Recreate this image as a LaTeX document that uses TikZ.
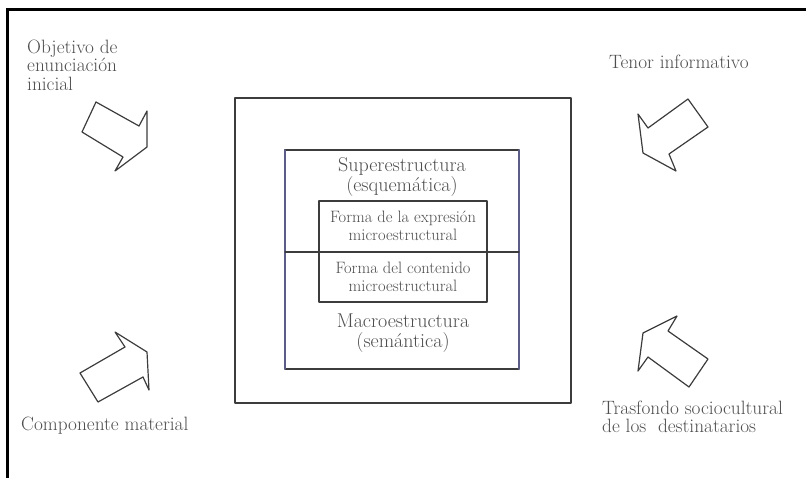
\documentclass[tikz,border=0pt]{standalone}
\usepackage{tkz-euclide}
\usepackage{tikz}
\usepackage{amsmath}
\definecolor{textgray}{HTML}{4E4E4E}
\definecolor{linegray}{HTML}{3C3C3C}
\definecolor{bluegray}{HTML}{5C5C88}
\tikzset{
  cornerlbl/.style={text=textgray, font=\fontsize{19.3}{18.5}\selectfont, align=left, anchor=west, inner sep=0pt},
  boxlbl/.style={text=textgray, font=\fontsize{20}{20}\selectfont, align=center, inner sep=0pt},
  microlbl/.style={text=textgray, font=\fontsize{16.5}{18}\selectfont, align=center, inner sep=0pt}
}

\begin{document}
\begin{tikzpicture}[x=1pt, y=-1pt]
    \useasboundingbox (0,0) rectangle (806,477);
    % marco
    \tkzDefPoints{7/478/F1,7/9/F2,807/9/F3}
    \tkzDrawPolySeg[line width=3pt,color=black](F1,F2,F3)
    % cajas
    \tkzDefPoints{235/98/O1,571/98/O2,571/403/O3,235/403/O4}
    \tkzDrawPolygon[line width=1.5pt,color=linegray](O1,O2,O3,O4)
    \tkzDefPoints{285/150/M1,519/150/M2,519/369/M3,285/369/M4,285/252/D1,519/252/D2}
    \tkzDrawPolygon[line width=1.4pt,color=linegray](M1,M2,M3,M4)
    \tkzDrawSegments[line width=1.4pt,color=bluegray](M1,M4 M2,M3)
    \tkzDrawSegments[line width=1.2pt,color=linegray](D1,D2)
    \tkzDefPoints{319/201/I1,487/201/I2,487/302/I3,319/302/I4}
    \tkzDrawPolygon[line width=1.5pt,color=linegray](I1,I2,I3,I4)
    % flechas
    \tkzDefPoints{96/102/a1,139/126/a2,147/111/a3,147/147/a4,115/171/a5,123/157/a6,82/132/a7}
    \tkzDrawPolygon[line width=1.2pt,color=linegray](a1,a2,a3,a4,a5,a6,a7)
    \tkzDefPoints{688/99/b1,708/127/b2,669/154/b3,676/171/b4,643/153/b5,638/114/b6,648/128/b7}
    \tkzDrawPolygon[line width=1.2pt,color=linegray](b1,b2,b3,b4,b5,b6,b7)
    \tkzDefPoints{80/373/c1,125/347/c2,115/332/c3,147/352/c4,149/390/c5,143/377/c6,98/402/c7}
    \tkzDrawPolygon[line width=1.2pt,color=linegray](c1,c2,c3,c4,c5,c6,c7)
    \tkzDefPoints{677/316/d1,668/331/d2,708/359/d3,689/387/d4,648/357/d5,638/371/d6,643/333/d7}
    \tkzDrawPolygon[line width=1.2pt,color=linegray](d1,d2,d3,d4,d5,d6,d7)
    % textos
    \node[cornerlbl] (objetivo) at (27,65) {Objetivo de\\enunciación\\inicial};
    \node[cornerlbl] (tenor) at (609,62) {Tenor informativo};
    \node[cornerlbl] (componente) at (21,426) {Componente material};
    \node[cornerlbl] (trasfondo) at (602,417) {Trasfondo sociocultural\\de los~ destinatarios};
    \node[boxlbl] (super) at (402,177) {Superestructura\\(esquemática)};
    \node[microlbl] (expresion) at (403,226) {Forma de la expresión\\microestructural};
    \node[microlbl] (contenido) at (403,277) {Forma del contenido\\microestructural};
    \node[boxlbl] (macro) at (403,333) {Macroestructura\\(semántica)};
\end{tikzpicture}
\end{document}
